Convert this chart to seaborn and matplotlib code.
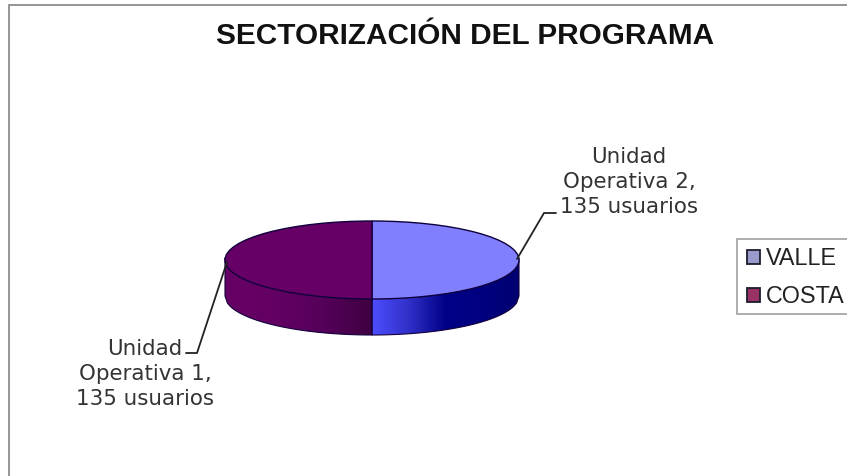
import numpy as np
import matplotlib
matplotlib.use('Agg')
import matplotlib.pyplot as plt
from matplotlib.patches import Patch, PathPatch, Rectangle
from matplotlib.path import Path
import seaborn as sns

# Data
sectors = ['VALLE', 'COSTA']
usuarios = [135, 135]
etiquetas = ['Unidad\nOperativa 2,\n135 usuarios', 'Unidad\nOperativa 1,\n135 usuarios']
titulo = 'SECTORIZACIÓN DEL PROGRAMA'

top_colors = ['#8080FF', '#660066']
legend_colors = ['#9999CC', '#993366']

W, H = 847, 476
sns.set_theme(style='white')
plt.rcParams['font.family'] = ['Liberation Sans', 'DejaVu Sans']

fig = plt.figure(figsize=(W / 100, H / 100), dpi=100)

# pixel overlay: same coordinates as the picture
bg = fig.add_axes([0, 0, 1, 1], zorder=0)
bg.set_xlim(0, W)
bg.set_ylim(H, 0)
bg.axis('off')

# chart border, only top and left show in the crop
bg.plot([8.5, 8.5, W], [H, 5, 5], color='#8c8c8c', lw=1.3, solid_joinstyle='miter')

cx, cy, rx, ry, depth = 372, 260, 147, 39, 36


def wall(x0, x1, colors):
    # side of the disc between x0 and x1, filled with a horizontal gradient
    xs = np.linspace(x0, x1, 60)
    low = cy + ry * np.sqrt(np.clip(1 - ((xs - cx) / rx) ** 2, 0, 1))
    verts = list(zip(xs, low - 2)) + list(zip(xs[::-1], low[::-1] + depth))
    clip = PathPatch(Path(verts + [verts[0]]), fc='none', ec='#14003c', lw=0.8, zorder=2)
    bg.add_patch(clip)
    cmap = sns.blend_palette(colors, as_cmap=True)
    im = bg.imshow(np.linspace(0, 1, 256)[None, :], cmap=cmap, aspect='auto',
                   extent=[x0, x1, cy + ry + depth, cy], zorder=1)
    im.set_clip_path(clip)


wall(cx, cx + rx, ['#4D4DFF', '#3030C8', '#000088', '#000080', '#000070'])
wall(cx - rx, cx, ['#660066', '#640064', '#55005A', '#3E0040'])
bg.set_xlim(0, W)
bg.set_ylim(H, 0)

# top face of the disc
pie_ax = fig.add_axes([(cx - rx) / W, 1 - (cy + ry) / H, 2 * rx / W, 2 * ry / H], zorder=3)
pie_ax.pie(usuarios, colors=top_colors, startangle=90, counterclock=False,
           radius=1, wedgeprops={'edgecolor': '#10003c', 'linewidth': 1.0})
pie_ax.set_aspect('auto')
pie_ax.set_xlim(-1.0, 1.0)
pie_ax.set_ylim(-1.0, 1.0)
for w in pie_ax.patches:
    w.set_clip_on(False)

# overlay for title, leaders and labels
top = fig.add_axes([0, 0, 1, 1], zorder=4)
top.set_xlim(0, W)
top.set_ylim(H, 0)
top.axis('off')

top.text(465, 36, titulo, ha='center', va='center', fontsize=21.4, fontweight='bold', color='#111111')

top.plot([517, 544, 556], [259, 213, 213], color='#222222', lw=1.3)
top.plot([227, 197, 186], [262, 353, 353], color='#222222', lw=1.3)

top.text(629, 182, etiquetas[0], ha='center', va='center', fontsize=15.4,
         family='DejaVu Sans', color='#333333', linespacing=1.29)
top.text(145, 374, etiquetas[1], ha='center', va='center', fontsize=15.4,
         family='DejaVu Sans', color='#333333', linespacing=1.29)

# legend box runs off the right edge
top.add_patch(Rectangle((737, 239), 130, 75, fc='white', ec='#a0a0a0', lw=1.2, clip_on=True))

handles = [Patch(facecolor=c, edgecolor='#1c1c2c', linewidth=1.3) for c in legend_colors]
leg = fig.legend(handles, sectors, loc='upper left', bbox_to_anchor=(747 / W, 1 - 247 / H),
                 borderaxespad=0, fontsize=16.8, frameon=False,
                 handlelength=0.56, handleheight=0.56,
                 handletextpad=0.24, labelspacing=0.66, borderpad=0,
                 labelcolor='#222222')
leg.set_zorder(5)

fig.savefig('out.png', dpi=100)
